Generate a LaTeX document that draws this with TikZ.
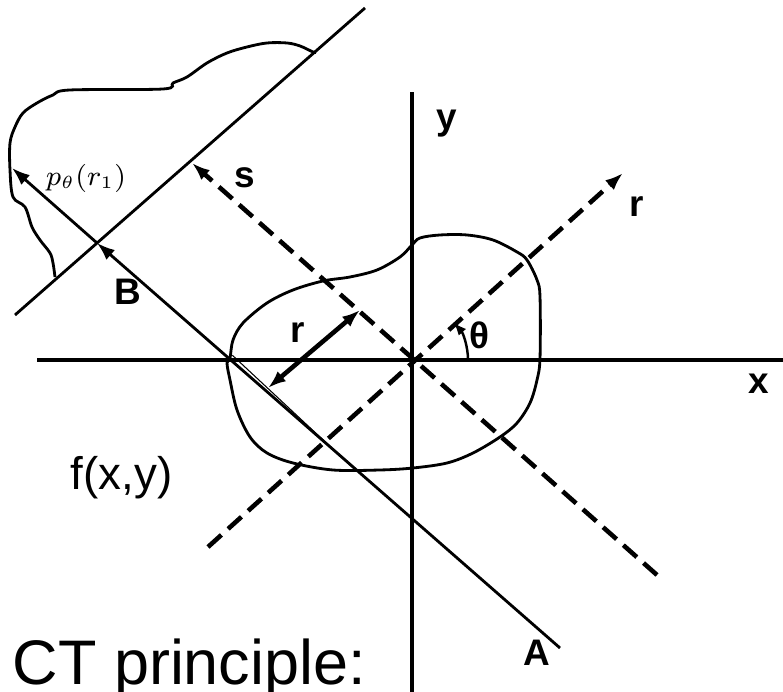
\documentclass[tikz,border=0pt]{standalone}
\usepackage{fontspec}
\setsansfont{Liberation Sans}
\usetikzlibrary{arrows.meta, calc}

\begin{document}
\begin{tikzpicture}[x=0.01cm, y=0.01cm,
  axisln/.style={line width=0.95pt},
  rayln/.style={line width=0.8pt},
  dashln/.style={line width=1.3pt, dash pattern=on 0.18cm off 0.09cm},
  outline/.style={line width=0.8pt, smooth, tension=0.55},
  tip/.style={-{Latex[length=1.8mm, width=1.3mm]}},
  lbl/.style={font=\sffamily\bfseries\fontsize{10.5}{12}\selectfont, inner sep=0pt}
]
\useasboundingbox (0,0) rectangle (783,692);

% points
\coordinate (O) at (412,332);
\coordinate (xl) at (37,332);
\coordinate (xr) at (783,332);
\coordinate (yb) at (412,0);
\coordinate (yt) at (412,600);
\coordinate (rlo) at (208,145);
\coordinate (rhi) at (623,519);
\coordinate (slo) at (657,117);
\coordinate (shi) at (192,529);
\coordinate (A) at (560,44);
\coordinate (B) at (97,449);
\coordinate (P) at (12,524);
\coordinate (dlo) at (15,377);
\coordinate (dhi) at (365,684);
\coordinate (ra) at (268,304);
\coordinate (rb) at (360,382);
\coordinate (e1) at (230,334);
\coordinate (e2) at (350,222);

% object f(x,y)
\draw[outline] plot[smooth cycle] coordinates {
  (230,334) (233,352) (243,369) (267,389) (293,402) (323,411) (350,415)
  (377,422) (400,435) (412,447) (420,454) (440,457) (467,457) (493,452)
  (517,440) (527,432) (537,412) (540,395) (540,334) (537,312) (530,289)
  (517,269) (500,255) (473,239) (447,229) (413,224) (380,222) (333,222)
  (293,229) (267,239) (250,255) (237,282) (230,312) (227,329)};

% projection profile
\draw[outline] plot coordinates {
  (55,415) (53,429) (50,439) (40,452) (32,465) (25,485) (13,495) (10,522)
  (10,549) (15,565) (23,579) (37,589) (53,597) (70,602) (163,603) (173,609)
  (187,615) (207,629) (227,639) (247,645) (267,649) (287,649) (300,646)
  (313,640) (315,640)};

% axes
\draw[axisln] (xl) -- (xr);
\draw[axisln] (yb) -- (yt);

% rotated axes
\draw[dashln, tip] (rlo) -- (rhi);
\draw[dashln, tip] (slo) -- (shi);

% ray and detector
\draw[rayln] (dlo) -- (dhi);
\draw[rayln, tip] (A) -- (B);
\draw[rayln, tip] (B) -- (P);
\draw[line width=0.3pt] ($(e1)+(2.4,2.7)$) -- ($(e2)+(2.4,2.7)$);

% distance r and angle
\draw[line width=1.3pt, {Latex[length=1.8mm, width=1.3mm]}-{Latex[length=1.8mm, width=1.3mm]}] (ra) -- (rb);
\draw[line width=0.7pt, -{Latex[length=1.3mm, width=1mm]}] ($(O)+(56,0)$) arc[start angle=0, end angle=42, radius=56];

% labels
\node[lbl] (ylbl) at (447,568) {y};
\node[lbl] (xlbl) at (759,308) {x};
\node[lbl] (rlbl) at (637,485) {r};
\node[lbl] (slbl) at (245,514) {s};
\node[lbl] (blbl) at (128,400) {B};
\node[lbl] (albl) at (537,39) {A};
\node[lbl] (dlbl) at (298,359) {r};
\node[lbl] (tlbl) at (479,357) {θ};
\node[font=\fontsize{7.8}{9}\selectfont, inner sep=0pt] (plbl) at (86,514) {$p_\theta(r_1)$};
\node[font=\sffamily\fontsize{13}{15}\selectfont, anchor=base west, inner sep=0pt] (flbl) at (70,202) {f(x,y)};
\node[font=\sffamily\fontsize{17.9}{20}\selectfont, anchor=base west, inner sep=0pt] (title) at (12,7) {CT principle:};
\end{tikzpicture}
\end{document}
